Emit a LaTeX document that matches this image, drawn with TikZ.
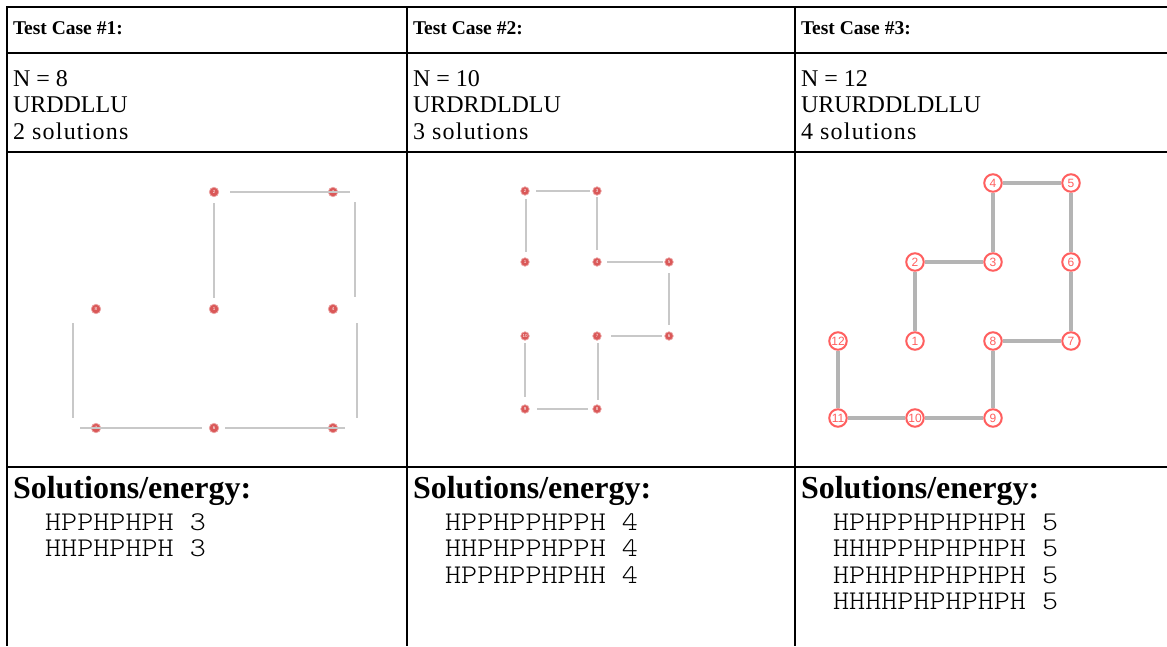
\documentclass[tikz,border=0pt]{standalone}
\usepackage{fontspec}
\setmainfont{Liberation Serif}
\newfontfamily\courlike{Latin Modern Mono Light}[FakeStretch=1.134]
\newfontfamily\lsans{Liberation Sans}
\newfontfamily\spacedserif{Liberation Serif}[LetterSpace=5.0]
\usetikzlibrary{calc}
\definecolor{gridline}{RGB}{200,200,200}
\definecolor{bondgray}{RGB}{180,180,180}
\definecolor{beadred}{RGB}{218,88,88}
\definecolor{ringred}{RGB}{255,95,95}
\tikzset{
  rule/.style={line width=2pt, black},
  txt/.style={anchor=base west, inner sep=0pt, outer sep=0pt},
  hdr/.style={txt, font=\fontsize{19.5}{20}\selectfont\bfseries},
  body/.style={txt, font=\fontsize{24}{26}\selectfont},
  spacedbody/.style={txt, font=\spacedserif\fontsize{24}{26}\selectfont},
  soltitle/.style={txt, font=\fontsize{32}{34}\selectfont\bfseries},
  mono/.style={txt, font=\courlike\fontsize{27}{28}\selectfont},
  bead/.style={circle, fill=beadred, draw=beadred!55, line width=0.7pt, minimum size=9.5pt, inner sep=0pt, text=white, font=\lsans\fontsize{4.5}{4.5}\selectfont},
  smallbead/.style={bead, minimum size=8.5pt},
  thinbond/.style={gridline, line width=1.2pt},
  ringbead/.style={circle, fill=white, draw=ringred, line width=2pt, minimum size=17.5pt, inner sep=0pt, text=ringred, font=\lsans\fontsize{12}{12}\selectfont},
  bond/.style={bondgray, line width=3.2pt},
}
\begin{document}
\begin{tikzpicture}[x=1pt,y=-1pt]
\useasboundingbox (0,0) rectangle (1167,646);
% table rules
\draw[rule] (6,7) -- (1167,7);
\draw[rule] (6,53) -- (1167,53);
\draw[rule] (6,152) -- (1167,152);
\draw[rule] (6,467) -- (1167,467);
\draw[rule] (7,6) -- (7,646);
\draw[rule] (407,6) -- (407,646);
\draw[rule] (795,6) -- (795,646);
% headers
\node[hdr] (h1) at (13,34.5) {Test Case \#1:};
\node[hdr] (h2) at (413,34.5) {Test Case \#2:};
\node[hdr] (h3) at (801,34.5) {Test Case \#3:};
% row 2
\node[body] (a1) at (13,86) {N = 8};
\node[body] (b1) at (13,112.5) {URDDLLU};
\node[spacedbody] (c1) at (13,139) {2 solutions};
\node[body] (a2) at (413,86) {N = 10};
\node[body] (b2) at (413,112.5) {URDRDLDLU};
\node[spacedbody] (c2) at (413,139) {3 solutions};
\node[body] (a3) at (801,86) {N = 12};
\node[body] (b3) at (801,112.5) {URURDDLDLLU};
\node[spacedbody] (c3) at (801,139) {4 solutions};
% solutions
\node[soltitle] (s1) at (13,498) {Solutions/energy:};
\node[soltitle] (s2) at (413,498) {Solutions/energy:};
\node[soltitle] (s3) at (801,498) {Solutions/energy:};
\node[mono] (m11) at (13,530) {\ \ HPPHPHPH 3};
\node[mono] (m12) at (13,556.5) {\ \ HHPHPHPH 3};
\node[mono] (m21) at (413,530) {\ \ HPPHPPHPPH 4};
\node[mono] (m22) at (413,556.5) {\ \ HHPHPPHPPH 4};
\node[mono] (m23) at (413,583) {\ \ HPPHPPHPHH 4};
\node[mono] (m31) at (801,530) {\ \ HPHPPHPHPHPH 5};
\node[mono] (m32) at (801,556.5) {\ \ HHHPPHPHPHPH 5};
\node[mono] (m33) at (801,583) {\ \ HPHHPHPHPHPH 5};
\node[mono] (m34) at (801,609.5) {\ \ HHHHPHPHPHPH 5};
% ---- graph 1
\node[bead] (g1n1) at (214,309) {1};
\node[bead] (g1n2) at (214,192) {2};
\node[bead] (g1n3) at (333,192) {3};
\node[bead] (g1n4) at (333,309) {4};
\node[bead] (g1n5) at (333,428) {5};
\node[bead] (g1n6) at (214,428) {6};
\node[bead] (g1n7) at (96,428) {7};
\node[bead] (g1n8) at (96,309) {8};
\draw[thinbond] ($(g1n2.center)+(16,0)$) -- ($(g1n3.center)+(17,0)$);
\draw[thinbond] ($(g1n2.center)+(0,11)$) -- ($(g1n1.center)+(0,-11)$);
\draw[thinbond] ($(g1n3.center)+(22,10)$) -- ($(g1n4.center)+(22,-12)$);
\draw[thinbond] ($(g1n4.center)+(24,14)$) -- ($(g1n5.center)+(24,-10)$);
\draw[thinbond] ($(g1n6.center)+(11,0)$) -- ($(g1n5.center)+(12,0)$);
\draw[thinbond] ($(g1n7.center)+(-16,0)$) -- ($(g1n6.center)+(-12,0)$);
\draw[thinbond] ($(g1n8.center)+(-23,14)$) -- ($(g1n7.center)+(-23,-10)$);
% ---- graph 2
\node[smallbead] (g2n1) at (525,262) {1};
\node[smallbead] (g2n2) at (525,191) {2};
\node[smallbead] (g2n3) at (597,191) {3};
\node[smallbead] (g2n4) at (597,262) {4};
\node[smallbead] (g2n5) at (669,262) {5};
\node[smallbead] (g2n6) at (669,336) {6};
\node[smallbead] (g2n7) at (597,336) {7};
\node[smallbead] (g2n8) at (597,409) {8};
\node[smallbead] (g2n9) at (525,409) {9};
\node[smallbead] (g2n10) at (525,336) {10};
\draw[thinbond] ($(g2n2.center)+(1,8)$) -- ($(g2n1.center)+(1,-10)$);
\draw[thinbond] ($(g2n2.center)+(11,0)$) -- ($(g2n3.center)+(-7,0)$);
\draw[thinbond] ($(g2n3.center)+(0,6)$) -- ($(g2n4.center)+(0,-12)$);
\draw[thinbond] ($(g2n4.center)+(10,0)$) -- ($(g2n5.center)+(-6,0)$);
\draw[thinbond] ($(g2n5.center)+(0,11)$) -- ($(g2n6.center)+(0,-11)$);
\draw[thinbond] ($(g2n7.center)+(14,0)$) -- ($(g2n6.center)+(-7,0)$);
\draw[thinbond] ($(g2n7.center)+(1,7)$) -- ($(g2n8.center)+(1,-9)$);
\draw[thinbond] ($(g2n9.center)+(12,0)$) -- ($(g2n8.center)+(-9,0)$);
\draw[thinbond] ($(g2n10.center)+(0,7)$) -- ($(g2n9.center)+(0,-12)$);
% ---- graph 3
\node[ringbead] (g3n1) at (915,341) {1};
\node[ringbead] (g3n2) at (915,262) {2};
\node[ringbead] (g3n3) at (993,262) {3};
\node[ringbead] (g3n4) at (993,183) {4};
\node[ringbead] (g3n5) at (1071,183) {5};
\node[ringbead] (g3n6) at (1071,262) {6};
\node[ringbead] (g3n7) at (1071,341) {7};
\node[ringbead] (g3n8) at (993,341) {8};
\node[ringbead] (g3n9) at (993,418) {9};
\node[ringbead] (g3n10) at (915,418) {10};
\node[ringbead] (g3n11) at (838,418) {11};
\node[ringbead] (g3n12) at (838,341) {12};
\draw[bond] (g3n1) -- (g3n2);
\draw[bond] (g3n2) -- (g3n3);
\draw[bond] (g3n3) -- (g3n4);
\draw[bond] (g3n4) -- (g3n5);
\draw[bond] (g3n5) -- (g3n6);
\draw[bond] (g3n6) -- (g3n7);
\draw[bond] (g3n7) -- (g3n8);
\draw[bond] (g3n8) -- (g3n9);
\draw[bond] (g3n9) -- (g3n10);
\draw[bond] (g3n10) -- (g3n11);
\draw[bond] (g3n11) -- (g3n12);
\end{tikzpicture}
\end{document}
